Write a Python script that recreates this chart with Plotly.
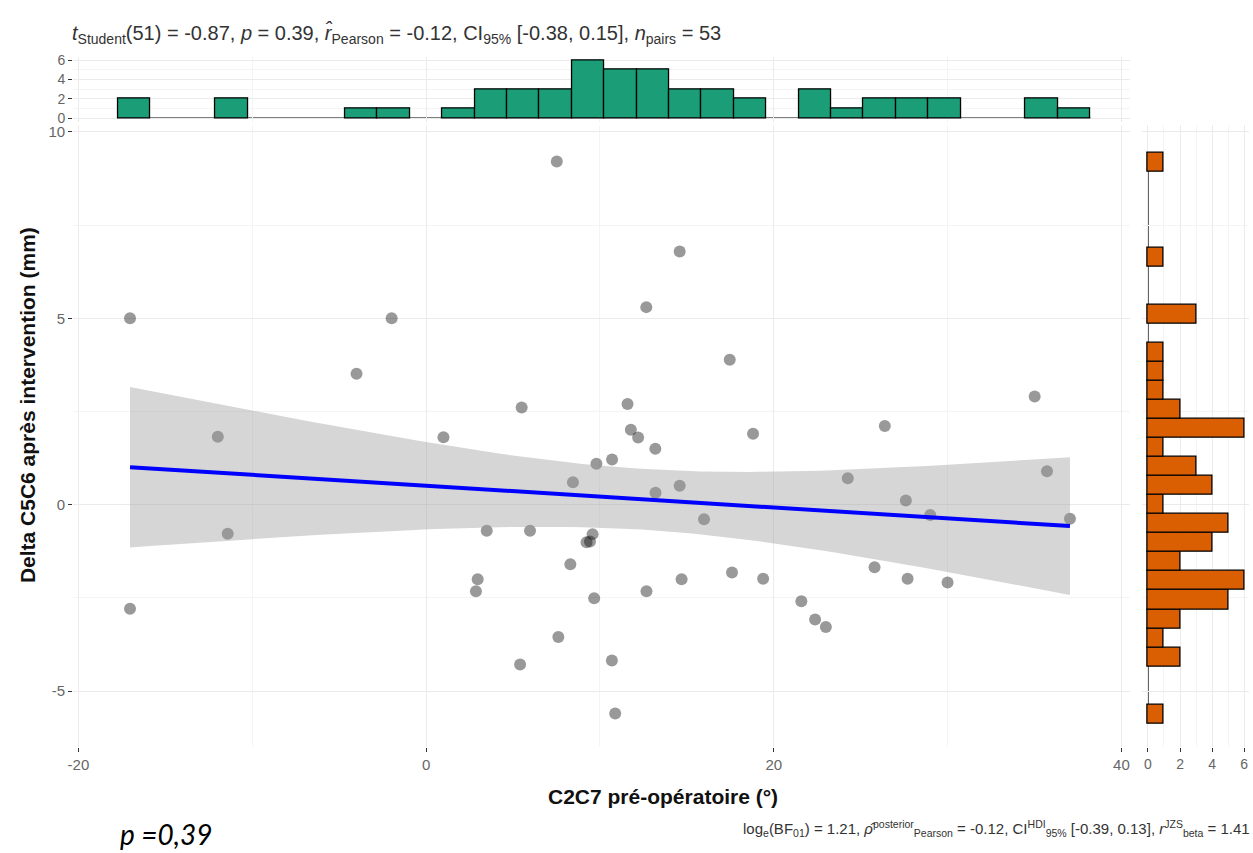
import numpy as np
import plotly.graph_objects as go

# ----------------------------------------------------------------------------------------------------------------------
#  DATA  (53 pairs)
# ----------------------------------------------------------------------------------------------------------------------
c2c7_preop = [7.52, 14.59, -17.03, -1.98, 12.67, -4.00, 17.47, 35.01, 5.50, 11.59,
              11.78, 12.20, -11.98, 1.00, 18.81, 26.39, 13.19, 10.70, 9.80, 35.72,
              24.26, 8.45, 14.59, 13.20, 27.60, 29.00, 37.04, 15.99, -11.41, 3.49,
              5.98, 9.58, 9.23, 9.43, 8.30, 25.80, 2.97, 14.70, 17.60, 19.39,
              27.70, 30.00, 2.87, 12.68, 9.67, -17.03, 21.59, 22.38, 23.00, 7.61,
              5.41, 10.69, 10.88]
delta_c5c6 = [9.21, 6.79, 5.00, 5.00, 5.30, 3.51, 3.89, 2.90, 2.61, 2.70,
              2.01, 1.80, 1.82, 1.81, 1.90, 2.11, 1.50, 1.21, 1.10, 0.90,
              0.71, 0.60, 0.51, 0.32, 0.11, -0.28, -0.38, -0.39, -0.78, -0.70,
              -0.70, -0.79, -1.01, -0.99, -1.60, -1.68, -2.00, -2.00, -1.82, -1.99,
              -1.99, -2.09, -2.32, -2.32, -2.51, -2.79, -2.59, -3.08, -3.28, -3.55,
              -4.29, -4.18, -5.60]

x_ticks = [-20, 0, 20, 40]
y_ticks = [-5, 0, 5, 10]
count_ticks = [0, 2, 4, 6]

title_text = ("<i>t</i><sub>Student</sub>(51) = -0.87, <i>p</i> = 0.39, "
              "<i>r\u0302</i><sub>Pearson</sub> = -0.12, CI<sub>95%</sub> [-0.38, 0.15], "
              "<i>n</i><sub>pairs</sub> = 53")
caption_text = ("log<sub>e</sub>(BF<sub>01</sub>) = 1.21, "
                "<i>\u03c1\u0302</i><sup>posterior</sup><sub>Pearson</sub> = -0.12, "
                "CI<sup>HDI</sup><sub>95%</sub> [-0.39, 0.13], "
                "<i>r</i><sup>JZS</sup><sub>beta</sub> = 1.41")

# ----------------------------------------------------------------------------------------------------------------------
#  STATS
# ----------------------------------------------------------------------------------------------------------------------
x = np.array(c2c7_preop)
y = np.array(delta_c5c6)
n = len(x)

slope, intercept = np.polyfit(x, y, 1)
resid = y - (intercept + slope * x)
s = np.sqrt(np.sum(resid ** 2) / (n - 2))
sxx = np.sum((x - x.mean()) ** 2)
t_crit = 2.00758  # qt(0.975, 51)
xs = np.linspace(x.min(), x.max(), 80)
ys = intercept + slope * xs
half = t_crit * s * np.sqrt(1.0 / n + (xs - x.mean()) ** 2 / sxx)


def gg_bins(v, bins=30):
    # ggplot2 default binning: width = range/(bins-1), boundary = width/2
    width = (v.max() - v.min()) / (bins - 1)
    boundary = width / 2
    start = boundary + np.floor((v.min() - boundary) / width) * width
    return start, start + bins * width, width


xb0, xb1, xbw = gg_bins(x)
yb0, yb1, ybw = gg_bins(y)

# ----------------------------------------------------------------------------------------------------------------------
#  FIGURE
# ----------------------------------------------------------------------------------------------------------------------
W, H = 1253, 853


def fx(px):
    return px / W


def fy(px):
    return 1 - px / H


FONT = "Liberation Sans, Arial, sans-serif"
GRID = "#EBEBEB"
MINOR = "#F4F4F4"
TICKFONT = dict(family=FONT, size=15, color="#666666")
SMALLTICK = dict(family=FONT, size=14, color="#666666")

fig = go.Figure()

fig.add_trace(go.Scatter(x=x, y=y, mode="markers",
                         marker=dict(size=12, color="rgba(0,0,0,0.4)", line=dict(width=0)),
                         xaxis="x", yaxis="y", showlegend=False))
fig.add_trace(go.Scatter(x=np.concatenate([xs, xs[::-1]]),
                         y=np.concatenate([ys + half, (ys - half)[::-1]]),
                         fill="toself", fillcolor="rgba(153,153,153,0.4)", line=dict(width=0),
                         mode="lines", xaxis="x", yaxis="y", showlegend=False, hoverinfo="skip"))
fig.add_trace(go.Scatter(x=xs, y=ys, mode="lines", line=dict(color="#0000FF", width=4),
                         xaxis="x", yaxis="y", showlegend=False))

fig.add_trace(go.Histogram(x=x, xbins=dict(start=xb0, end=xb1, size=xbw), autobinx=False,
                           marker=dict(color="#1B9E77", line=dict(color="black", width=1.3)),
                           xaxis="x2", yaxis="y2", showlegend=False))
fig.add_trace(go.Histogram(y=y, ybins=dict(start=yb0, end=yb1, size=ybw), autobiny=False,
                           orientation="h",
                           marker=dict(color="#D95F02", line=dict(color="black", width=1.3)),
                           xaxis="x3", yaxis="y3", showlegend=False))

# baseline of empty bins (ggplot draws zero-height outlined bars)
fig.add_shape(type="line", xref="x2", yref="y2", x0=xb0, x1=xb1, y0=0, y1=0,
              line=dict(color="black", width=1.3), layer="below")
fig.add_shape(type="line", xref="x3", yref="y3", x0=0, x1=0, y0=yb0, y1=yb1,
              line=dict(color="black", width=1.3), layer="below")

main_x_dom = [fx(67.5), fx(1129.5)]
main_y_dom = [fy(750), fy(122)]

axis_common = dict(showline=False, zeroline=False, ticks="outside", ticklen=4, tickwidth=1,
                   tickcolor="#333333", gridcolor=GRID, gridwidth=1)

fig.update_layout(
    width=W, height=H, margin=dict(l=0, r=0, t=0, b=0),
    paper_bgcolor="white", plot_bgcolor="white", bargap=0, showlegend=False,
    xaxis=dict(domain=main_x_dom, range=[-20.3, 40.5], tickvals=x_ticks,
               ticktext=[str(v) for v in x_ticks], anchor="y", tickfont=TICKFONT,
               minor=dict(dtick=10, tick0=0, showgrid=True, gridcolor=MINOR, ticks=""),
               **axis_common),
    yaxis=dict(domain=main_y_dom, range=[-6.5, 10.19], tickvals=y_ticks,
               ticktext=[str(v) for v in y_ticks], anchor="x", tickfont=TICKFONT,
               minor=dict(dtick=2.5, tick0=0, showgrid=True, gridcolor=MINOR, ticks=""),
               **axis_common),
    xaxis2=dict(domain=main_x_dom, range=[-20.3, 40.5], tickvals=x_ticks, anchor="y2",
                showticklabels=False, ticks="", showline=False, zeroline=False, gridcolor=GRID,
                minor=dict(dtick=10, tick0=0, showgrid=True, gridcolor=MINOR, ticks="")),
    yaxis2=dict(domain=[fy(119), fy(53)], range=[-0.4, 6.4], tickvals=count_ticks, anchor="x2",
                tickfont=SMALLTICK,
                minor=dict(dtick=1, tick0=0, showgrid=True, gridcolor=MINOR, ticks=""),
                **axis_common),
    xaxis3=dict(domain=[fx(1141), fx(1249)], range=[-0.4, 6.3], tickvals=count_ticks, anchor="y3",
                tickfont=SMALLTICK,
                minor=dict(dtick=1, tick0=0, showgrid=True, gridcolor=MINOR, ticks=""),
                **axis_common),
    yaxis3=dict(domain=main_y_dom, range=[-6.5, 10.19], tickvals=y_ticks, anchor="x3",
                showticklabels=False, ticks="", showline=False, zeroline=False, gridcolor=GRID,
                minor=dict(dtick=2.5, tick0=0, showgrid=True, gridcolor=MINOR, ticks="")),
)

fig.add_annotation(text=title_text, xref="paper", yref="paper", x=fx(64), y=fy(30),
                   xanchor="left", yanchor="middle", showarrow=False,
                   font=dict(family=FONT, size=20, color="#333333"))
fig.add_annotation(text=caption_text, xref="paper", yref="paper", x=fx(1252), y=fy(832),
                   xanchor="right", yanchor="middle", showarrow=False,
                   font=dict(family=FONT, size=15, color="#333333"))
fig.add_annotation(text="<b>C2C7 pré-opératoire (°)</b>", xref="paper", yref="paper",
                   x=fx(660), y=fy(800), xanchor="center", yanchor="middle", showarrow=False,
                   font=dict(family=FONT, size=21, color="#111111"))
fig.add_annotation(text="<b>Delta C5C6 après intervention (mm)</b>", xref="paper", yref="paper",
                   x=fx(21), y=fy(405), xanchor="center", yanchor="middle", textangle=-90,
                   showarrow=False, font=dict(family=FONT, size=21, color="#111111"))
fig.add_annotation(text="<i>p =0,39</i>", xref="paper", yref="paper", x=fx(113), y=fy(838),
                   xanchor="left", yanchor="middle", showarrow=False,
                   font=dict(family="Lato, Open Sans, sans-serif", size=28, color="black"))

fig.write_html("out.html", config={"displayModeBar": False},
               post_script="document.body.style.margin='0';")
